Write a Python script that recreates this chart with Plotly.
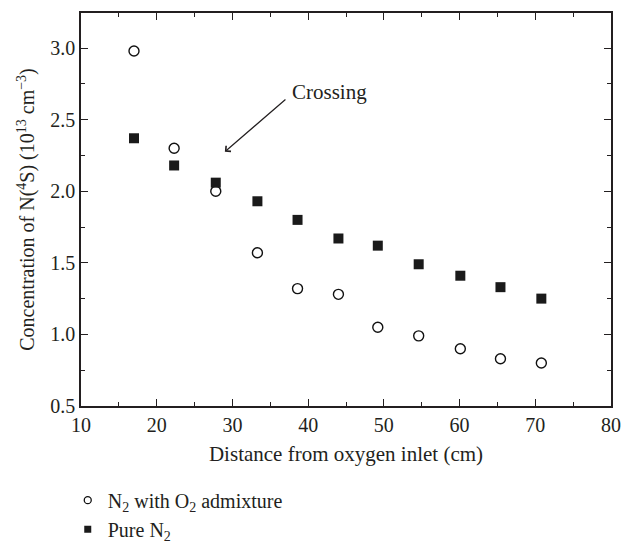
import plotly.graph_objects as go

distance = [17.0, 22.3, 27.8, 33.3, 38.6, 44.0, 49.2, 54.6, 60.1, 65.4, 70.8]
n2_o2 = [2.98, 2.30, 2.00, 1.57, 1.32, 1.28, 1.05, 0.99, 0.90, 0.83, 0.80]
pure_n2 = [2.37, 2.18, 2.06, 1.93, 1.80, 1.67, 1.62, 1.49, 1.41, 1.33, 1.25]

FONT = "Liberation Serif"
AX = "#231f20"
TXT = "#231f20"

fig = go.Figure()
fig.add_trace(go.Scatter(
    x=distance, y=n2_o2, mode="markers", showlegend=False,
    name="N<sub>2</sub> with O<sub>2</sub> admixture",
    marker=dict(symbol="circle-open", size=10, color="#111111", line=dict(width=1.4, color="#111111")),
))
fig.add_trace(go.Scatter(
    x=distance, y=pure_n2, mode="markers", showlegend=False,
    name="Pure N<sub>2</sub>",
    marker=dict(symbol="square", size=10, color="#1a1a1a", line=dict(width=0)),
))
# legend entries (smaller symbols, as in the reference)
fig.add_trace(go.Scatter(
    x=[None], y=[None], mode="markers",
    name="N<sub>2</sub> with O<sub>2</sub> admixture",
    marker=dict(symbol="circle-open", size=7, color="#111111", line=dict(width=1.3, color="#111111")),
))
fig.add_trace(go.Scatter(
    x=[None], y=[None], mode="markers",
    name="Pure N<sub>2</sub>",
    marker=dict(symbol="square", size=7, color="#1a1a1a", line=dict(width=0)),
))

axis_common = dict(
    showgrid=False, zeroline=False, showline=True, linecolor=AX, linewidth=1.5,
    mirror="ticks", ticks="inside", ticklen=7, tickwidth=1.3, tickcolor=AX,
    tickfont=dict(family=FONT, size=20, color=TXT),
)
fig.update_xaxes(
    range=[10, 80], dtick=10, tick0=10,
    minor=dict(ticks="inside", ticklen=4, tickwidth=1.3, tickcolor=AX, dtick=5),
    title=dict(text="Distance from oxygen inlet (cm)", font=dict(family=FONT, size=21, color=TXT), standoff=12),
    **axis_common,
)
fig.update_yaxes(
    range=[0.5, 3.245], dtick=0.5, tick0=0.5, tickformat=".1f",
    minor=dict(ticks="inside", ticklen=4, tickwidth=1.3, tickcolor=AX, dtick=0.25),
    title=dict(text="Concentration of N(<sup>4</sup>S) (10<sup>13</sup> cm<sup>\u22123</sup>)",
               font=dict(family=FONT, size=20, color=TXT), standoff=10),
    **axis_common,
)

fig.add_annotation(x=29.0, y=2.276, ax=37.2, ay=2.65, axref="x", ayref="y", xref="x", yref="y",
                   text="", showarrow=True, arrowhead=4, arrowsize=1.2, arrowwidth=1.2, arrowcolor=AX)
fig.add_annotation(x=37.6, y=2.69, xref="x", yref="y", text="Crossing", showarrow=False,
                   xanchor="left", font=dict(family=FONT, size=21, color=TXT))

fig.update_layout(
    width=622, height=543, margin=dict(l=81, r=11, t=13, b=137, autoexpand=False),
    paper_bgcolor="white", plot_bgcolor="white",
    showlegend=True,
    legend=dict(x=-0.025, y=-0.19, xanchor="left", yanchor="top", bgcolor="rgba(0,0,0,0)",
                font=dict(family=FONT, size=20, color=TXT), tracegroupgap=0),
)
fig.write_html("out.html")
